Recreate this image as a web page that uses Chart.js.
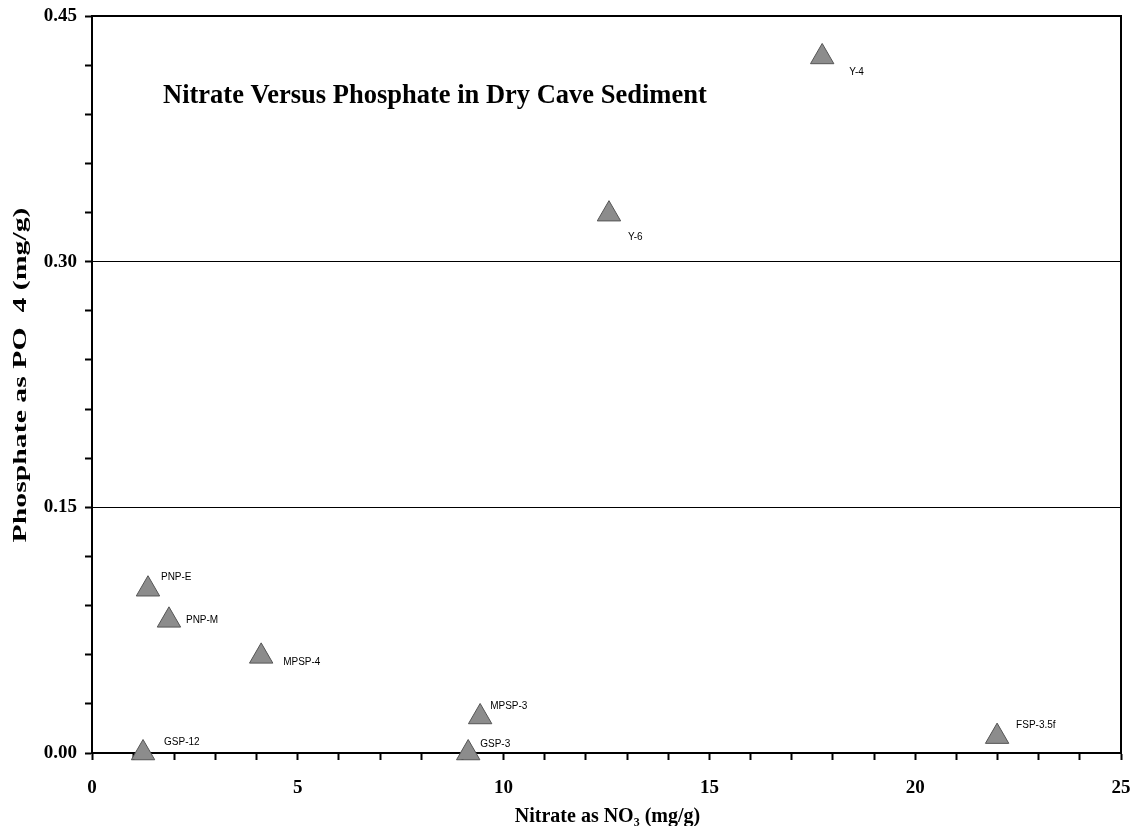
<!DOCTYPE html>
<html>
<head>
<meta charset="utf-8">
<title>Nitrate Versus Phosphate in Dry Cave Sediment</title>
<script src="https://cdn.jsdelivr.net/npm/chart.js@4.4.1/dist/chart.umd.min.js"></script>
<style>
   html, body { margin: 0; padding: 0; background: #fff; }
   #wrap { width: 1144px; height: 826px; }
</style>
</head>
<body>
<div id="wrap"><canvas id="chart" width="1144" height="826"></canvas></div>
<script>
// Sample data
const samples   = ['Y-4', 'Y-6', 'PNP-E', 'PNP-M', 'MPSP-4', 'GSP-12', 'MPSP-3', 'GSP-3', 'FSP-3.5f'];
const nitrate   = [17.74, 12.56, 1.36, 1.87, 4.11, 1.24, 9.43, 9.14, 21.99];
const phosphate = [0.425, 0.329, 0.100, 0.081, 0.059, 0.000, 0.022, 0.000, 0.010];

// where each sample name sits relative to its marker (px)
const labelShift = [[27, 15], [19, 23], [13, -12], [17, 0], [22, 6], [21, -11], [10, -11], [12, -9], [19, -11]];

const chartTitle = 'Nitrate Versus Phosphate in Dry Cave Sediment';
const xTitle = 'Nitrate as NO\u2083 (mg/g)';
const yTitle = 'Phosphate as PO  4 (mg/g)';

const serif = '"Liberation Serif", "Times New Roman", serif';
const isMajor = (v, step) => Math.abs(v / step - Math.round(v / step)) < 1e-6;

// sample names next to the markers, title inside the plot, axis titles
const annotate = {
   id: 'annotate',
   afterDatasetsDraw(chart) {
      const ctx = chart.ctx;
      const a = chart.chartArea;
      const pts = chart.getDatasetMeta(0).data;
      ctx.save();
      ctx.fillStyle = '#000';
      ctx.font = '10px "Liberation Sans", Arial, sans-serif';
      ctx.textAlign = 'left';
      ctx.textBaseline = 'middle';
      pts.forEach((p, i) => {
         ctx.fillText(samples[i], p.x + labelShift[i][0], p.y + labelShift[i][1]);
      });

      ctx.font = 'bold 26.5px ' + serif;
      ctx.textBaseline = 'alphabetic';
      ctx.fillText(chartTitle, 163, 103);

      // x axis title
      ctx.font = 'bold 20px ' + serif;
      ctx.textAlign = 'center';
      ctx.textBaseline = 'middle';
      ctx.fillText(xTitle, (a.left + a.right) / 2 + 1, 817);

      // y axis title, drawn stretched along its length like the original
      ctx.font = 'bold 19px ' + serif;
      const w = ctx.measureText(yTitle).width;
      ctx.translate(21, 375);
      ctx.rotate(-Math.PI / 2);
      ctx.scale(335 / w, 1);
      ctx.fillText(yTitle, 0, 0);
      ctx.restore();
   }
};

const chart = new Chart(document.getElementById('chart').getContext('2d'), {
   type: 'scatter',
   data: {
      datasets: [{
         label: 'samples',
         data: nitrate.map((x, i) => ({ x: x, y: phosphate[i] })),
         pointStyle: 'triangle',
         pointRadius: 13.5,
         pointHoverRadius: 13.5,
         backgroundColor: '#8c8c8c',
         borderColor: '#555',
         borderWidth: 1,
         clip: false
      }]
   },
   options: {
      responsive: false,
      animation: false,
      events: [],
      layout: { padding: { top: 16, right: 23, left: 0, bottom: 0 } },
      plugins: {
         legend: { display: false },
         tooltip: { enabled: false }
      },
      scales: {
         x: {
            type: 'linear',
            min: 0,
            max: 25,
            afterFit: s => { s.height = 73; s.paddingLeft = 0; s.paddingRight = 0; },
            border: { color: '#000', width: 2 },
            grid: { color: 'transparent', tickColor: '#000', tickLength: 7, tickWidth: 2 },
            ticks: {
               stepSize: 1,
               autoSkip: false,
               maxRotation: 0,
               padding: 17,
               color: '#000',
               font: { family: serif, size: 19, weight: 'bold' },
               callback: v => isMajor(v, 5) ? String(v) : ''
            }
         },
         y: {
            type: 'linear',
            min: 0,
            max: 0.45,
            afterFit: s => { s.width = 92; s.paddingTop = 0; s.paddingBottom = 0; },
            border: { color: '#000', width: 2 },
            grid: {
               color: c => (c.tick && isMajor(c.tick.value, 0.15)) ? '#000' : 'transparent',
               tickColor: '#000',
               tickLength: 7,
               tickWidth: 2,
               lineWidth: 1
            },
            ticks: {
               stepSize: 0.03,
               autoSkip: false,
               padding: 8,
               color: '#000',
               font: { family: serif, size: 19, weight: 'bold' },
               callback: v => isMajor(v, 0.15) ? v.toFixed(2) : ''
            }
         }
      }
   },
   plugins: [annotate, {
      // frame on the top and right sides
      id: 'frame',
      afterDraw(chart) {
         const a = chart.chartArea, ctx = chart.ctx;
         ctx.save();
         ctx.strokeStyle = '#000';
         ctx.lineWidth = 2;
         ctx.beginPath();
         ctx.moveTo(a.left, a.top);
         ctx.lineTo(a.right, a.top);
         ctx.lineTo(a.right, a.bottom);
         ctx.stroke();
         ctx.restore();
      }
   }]
});
</script>
</body>
</html>
